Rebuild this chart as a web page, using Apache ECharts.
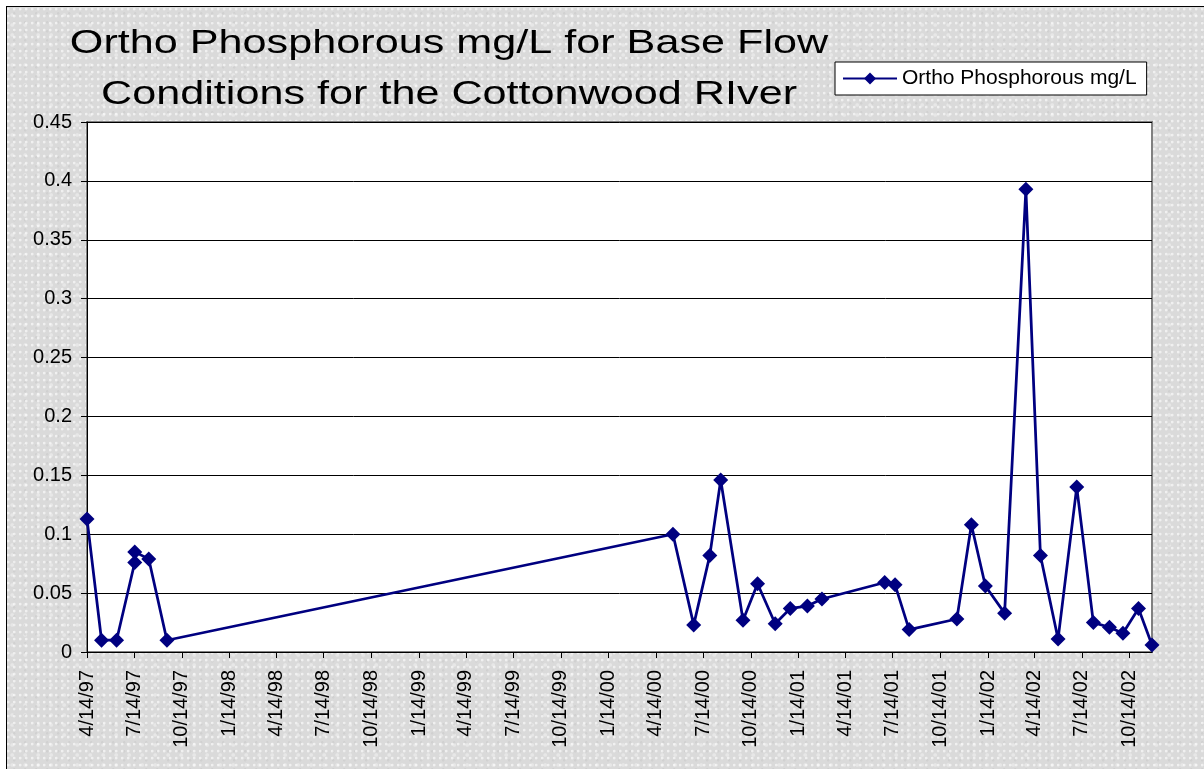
<!DOCTYPE html>
<html>
<head>
<meta charset="utf-8">
<script src="https://cdn.jsdelivr.net/npm/echarts@6/dist/echarts.min.js"></script>
<style>
  html, body { margin: 0; padding: 0; background: #fff; overflow: hidden; }
  #paper {
    position: absolute; left: 6px; top: 6px; width: 1197px; height: 762px;
    border-left: 1px solid #000; border-top: 1px solid #000;
    background-color: #dadada;
    background-image:
      radial-gradient(circle at 20% 30%, rgba(255,255,255,0.6) 0.9px, transparent 1.8px),
      radial-gradient(circle at 65% 70%, rgba(190,190,190,0.35) 0.8px, transparent 1.7px),
      radial-gradient(circle at 40% 80%, rgba(240,240,240,0.6) 1.2px, transparent 2.4px);
    background-size: 6px 7px, 11px 9px, 13px 10px;
  }
  #chart { position: absolute; left: 0; top: 0; width: 1204px; height: 769px; }
</style>
</head>
<body>
<div id="paper"></div>
<div id="chart"></div>
<script>
// sample dates (M/D/YY) and ortho phosphorous values
const sampleDates = [
  '4/14/97', '5/12/97', '6/10/97', '7/15/97', '7/15/97', '8/11/97', '9/15/97',
  '5/17/00', '6/26/00', '7/27/00', '8/17/00', '9/29/00', '10/27/00', '11/30/00', '12/29/00',
  '1/31/01', '2/28/01', '6/29/01', '7/19/01', '8/15/01', '11/15/01', '12/13/01',
  '1/9/02', '2/15/02', '3/28/02', '4/25/02', '5/29/02', '7/4/02', '8/5/02', '9/5/02',
  '10/1/02', '10/31/02', '11/26/02'
];
const orthoP = [
  0.113, 0.010, 0.010, 0.076, 0.085, 0.079, 0.010,
  0.100, 0.023, 0.082, 0.146, 0.027, 0.058, 0.024, 0.037,
  0.039, 0.045, 0.059, 0.057, 0.019, 0.028, 0.108,
  0.056, 0.033, 0.393, 0.082, 0.011, 0.140, 0.025, 0.021,
  0.016, 0.037, 0.006
];
const tickLabels = [
  '4/14/97', '7/14/97', '10/14/97', '1/14/98', '4/14/98', '7/14/98', '10/14/98',
  '1/14/99', '4/14/99', '7/14/99', '10/14/99', '1/14/00', '4/14/00', '7/14/00',
  '10/14/00', '1/14/01', '4/14/01', '7/14/01', '10/14/01', '1/14/02', '4/14/02',
  '7/14/02', '10/14/02'
];
const yTicks = [0, 0.05, 0.1, 0.15, 0.2, 0.25, 0.3, 0.35, 0.4, 0.45];
const seriesName = 'Ortho Phosphorous mg/L';
const titleLines = ['Ortho Phosphorous mg/L for Base Flow', 'Conditions for the Cottonwood RIver'];

// day number from a M/D/YY string
function toDay(s) {
  const p = s.split('/').map(Number);
  const y = p[2] < 50 ? 2000 + p[2] : 1900 + p[2];
  return Date.UTC(y, p[0] - 1, p[1]) / 864e5;
}
function fmtDay(v) {
  const d = new Date(Math.round(v) * 864e5);
  const yy = String(d.getUTCFullYear() % 100).padStart(2, '0');
  return (d.getUTCMonth() + 1) + '/' + d.getUTCDate() + '/' + yy;
}

const tickDays = tickLabels.map(toDay);
const points = sampleDates.map((s, i) => [toDay(s), orthoP[i]]);
const font = 'Liberation Sans, Arial, sans-serif';

const chart = echarts.init(document.getElementById('chart'));

const option = {
  animation: false,
  backgroundColor: 'transparent',
  graphic: titleLines.map((t, i) => ({
    type: 'text',
    x: 449,
    y: 27 + i * 51,
    scaleX: 1.27,
    style: {
      text: t,
      fontSize: 34,
      fontFamily: font,
      fill: '#000',
      textAlign: 'center',
      textVerticalAlign: 'top',
      verticalAlign: 'top'
    }
  })),
  legend: {
    data: [seriesName],
    left: 835,
    top: 62,
    backgroundColor: '#fff',
    borderColor: '#000',
    borderWidth: 1,
    borderRadius: 0,
    padding: [6, 10, 6, 7],
    itemWidth: 54,
    itemHeight: 15,
    textStyle: { fontSize: 21, color: '#000', fontFamily: font }
  },
  grid: {
    show: true,
    left: 87,
    right: 52,
    top: 122,
    bottom: 117,
    backgroundColor: '#fff',
    borderColor: '#808080',
    borderWidth: 2
  },
  xAxis: {
    type: 'value',
    min: tickDays[0],
    max: toDay(sampleDates[sampleDates.length - 1]),
    axisLine: { show: true, lineStyle: { color: '#000', width: 1 } },
    axisTick: { show: true, length: 6, customValues: tickDays, lineStyle: { color: '#000' } },
    axisLabel: {
      customValues: tickDays,
      rotate: 90,
      margin: 18,
      fontSize: 20,
      color: '#000',
      fontFamily: font,
      formatter: v => fmtDay(v)
    },
    splitLine: { show: false }
  },
  yAxis: {
    type: 'value',
    min: yTicks[0],
    max: yTicks[yTicks.length - 1],
    interval: 0.05,
    axisLine: { show: true, lineStyle: { color: '#000', width: 1 } },
    axisTick: { show: true, length: 6, lineStyle: { color: '#000' } },
    axisLabel: { fontSize: 20, margin: 15, color: '#000', fontFamily: font },
    splitLine: { show: true, lineStyle: { color: '#000', width: 1 } }
  },
  series: [
    {
      name: seriesName,
      type: 'line',
      data: points,
      clip: false,
      symbol: 'diamond',
      symbolSize: 15,
      showAllSymbol: true,
      lineStyle: { color: '#000080', width: 2.75 },
      itemStyle: { color: '#000080' }
    }
  ]
};

chart.setOption(option);
</script>
</body>
</html>
